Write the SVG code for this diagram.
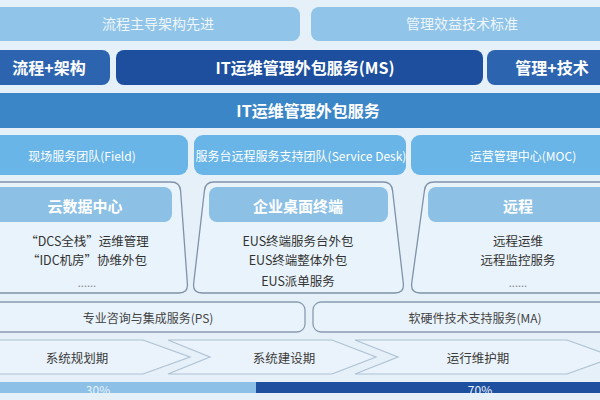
<svg xmlns="http://www.w3.org/2000/svg" width="600" height="400" viewBox="0 0 600 400">
<style>
text{font-family:"Noto Sans CJK SC","Noto Sans",sans-serif;text-anchor:middle;dominant-baseline:central}
.top{fill:#90c4e8}
.topt{fill:#eef6fc;font-size:14px}
.mid{fill:#2d64b0}
.dark{fill:#1d4f9e}
.bt{fill:#ffffff;font-size:16px;font-weight:bold}
.tab{fill:#69b5e7}
.tabt{fill:#ffffff;font-size:12px}
.card{fill:#e9f3fb;stroke:#7f92a8;stroke-width:1.3}
.hdr{fill:#8dc0e5}
.hdrt{fill:#ffffff;font-size:15px;font-weight:bold}
.item{fill:#333333;font-size:12.5px}
.dots{fill:#888888;font-size:11px}
.svc{fill:#e9f3fb;stroke:#8a9cb0;stroke-width:1.3}
.svct{fill:#444444;font-size:12px}
.chev{fill:#eaf3fb;stroke:#aec2d4;stroke-width:1.2}
.chevt{fill:#3a3a3a;font-size:12.5px}
.pct{fill:#e8f2fb;font-size:12px}
</style>
<rect width="600" height="400" fill="#e5f0f9"/>

<g id="row1-left"><rect class="top" x="-10" y="7" width="310" height="34" rx="8"/><text class="topt" x="158" y="23">流程主导架构先进</text></g>
<g id="row1-right"><rect class="top" x="311" y="7" width="300" height="34" rx="8"/><text class="topt" x="462" y="23">管理效益技术标准</text></g>

<g id="row2-left"><rect class="mid" x="-10" y="50" width="120" height="35" rx="8"/><text class="bt" x="49" y="67">流程+架构</text></g>
<g id="row2-ms"><rect class="dark" x="116" y="50" width="367" height="35" rx="8"/><text class="bt" x="305" y="67">IT运维管理外包服务(MS)</text></g>
<g id="row2-right"><rect class="mid" x="487" y="50" width="123" height="35" rx="8"/><text class="bt" x="552" y="67">管理+技术</text></g>

<g id="row3"><rect fill="#3b86c7" x="-10" y="93" width="620" height="35" rx="6"/><text class="bt" x="308" y="110">IT运维管理外包服务</text></g>

<g id="tab-field"><rect class="tab" x="-10" y="135" width="198" height="40" rx="9"/><text class="tabt" x="82" y="155">现场服务团队(Field)</text></g>
<g id="tab-desk"><rect class="tab" x="194" y="135" width="212" height="40" rx="9"/><text class="tabt" x="301" y="155">服务台远程服务支持团队(Service Desk)</text></g>
<g id="tab-moc"><rect class="tab" x="411" y="135" width="200" height="40" rx="9"/><text class="tabt" x="523" y="155">运营管理中心(MOC)</text></g>

<g id="card-cloud">
<path class="card" d="M -10 182 H 171 Q 180 182 180.6 191 L 187.4 284 Q 188 293 179 293 H -10 Z"/>
<rect class="hdr" x="-10" y="187" width="182" height="35" rx="8"/>
<text class="hdrt" x="85" y="205">云数据中心</text>
<text class="item" x="87" y="240">“DCS全栈”运维管理</text>
<text class="item" x="87" y="259">“IDC机房”协维外包</text>
<text class="dots" x="87" y="282">......</text>
</g>
<g id="card-desktop">
<path class="card" d="M 214 182 H 383 Q 392 182 392.6 191 L 403.4 284 Q 404 293 395 293 H 202 Q 193 293 193.6 284 L 204.4 191 Q 205 182 214 182 Z"/>
<rect class="hdr" x="209" y="187" width="179" height="35" rx="8"/>
<text class="hdrt" x="298" y="205">企业桌面终端</text>
<text class="item" x="298" y="240">EUS终端服务台外包</text>
<text class="item" x="298" y="259">EUS终端整体外包</text>
<text class="item" x="298" y="280">EUS派单服务</text>
</g>
<g id="card-remote">
<path class="card" d="M 434 182 H 612 V 293 H 420 Q 411 293 411.6 284 L 424.4 191 Q 425 182 434 182 Z"/>
<rect class="hdr" x="428" y="187" width="183" height="35" rx="8"/>
<text class="hdrt" x="518" y="205">远程</text>
<text class="item" x="518" y="240">远程运维</text>
<text class="item" x="518" y="259">远程监控服务</text>
<text class="dots" x="518" y="282">......</text>
</g>

<g id="svc-ps"><rect class="svc" x="-10" y="302" width="315" height="30" rx="8"/><text class="svct" x="148" y="317">专业咨询与集成服务(PS)</text></g>
<g id="svc-ma"><rect class="svc" x="313" y="302" width="300" height="30" rx="8"/><text class="svct" x="475" y="317">软硬件技术支持服务(MA)</text></g>

<g id="phase-plan"><polygon class="chev" points="-10,340 143,340 190,357 143,374 -10,374"/><text class="chevt" x="77" y="357">系统规划期</text></g>
<g id="phase-build"><polygon class="chev" points="168,340 332,340 376,357 332,374 168,374 210,357"/><text class="chevt" x="284" y="357">系统建设期</text></g>
<g id="phase-run"><polygon class="chev" points="355,340 567,340 614,357 567,374 355,374 398,357"/><text class="chevt" x="478" y="357">运行维护期</text></g>

<g id="progress">
<rect fill="#8cc0e6" x="0" y="382" width="256" height="11"/>
<rect fill="#1f4f9f" x="256" y="382" width="344" height="11"/>
<text class="pct" x="98" y="389">30%</text>
<text class="pct" x="480" y="389">70%</text>
</g>
</svg>
